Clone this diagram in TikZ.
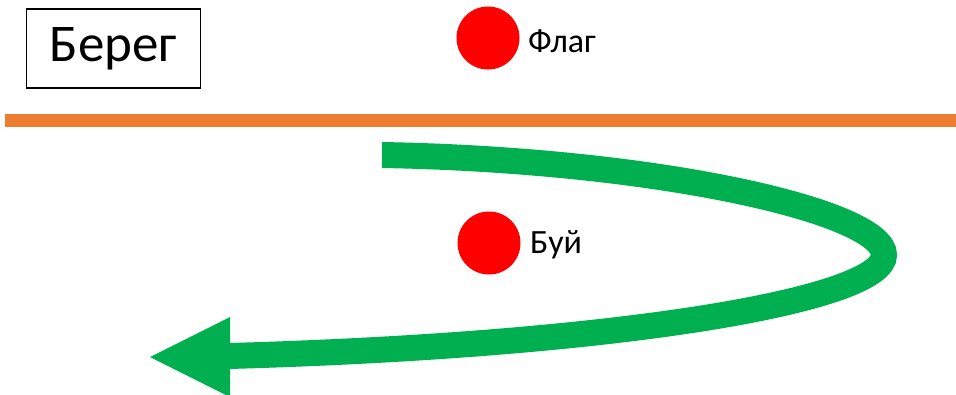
\documentclass[tikz,border=0pt]{standalone}
\usepackage{fontspec}
\setmainfont{Carlito}
\definecolor{shore}{HTML}{ED7D31}
\definecolor{route}{HTML}{00B050}
\definecolor{marker}{HTML}{FF0000}
\begin{document}
\begin{tikzpicture}[x=1pt,y=-1pt,
  mark dot/.style={circle,fill=marker,minimum size=63pt,inner sep=0pt},
  label text/.style={font=\fontsize{34}{40}\selectfont,anchor=west,inner sep=0pt}]
\useasboundingbox (0,0) rectangle (956,394);
% shore box and shore line
\node[draw,line width=1.3pt,minimum width=174pt,minimum height=79pt,inner sep=0pt,
  font=\fontsize{53}{60}\selectfont] (shore) at (113.5,48.5) {Берег};
\fill[shore] (5,114) rectangle (956,127);
% flag and buoy
\node[mark dot] (flag) at (488,38) {};
\node[label text] (flagtext) at (528,41) {Флаг};
\node[mark dot] (buoy) at (489,243) {};
\node[label text] (buoytext) at (530,245) {Буй};
% route around the buoy
\coordinate (start) at (382,155);
\coordinate (turn) at (884,255);
\coordinate (base) at (229,356);
\coordinate (tip) at (150,357);
\draw[route,line width=26pt,line cap=butt]
  (start) .. controls (660,160) and (884,212) .. (turn)
          .. controls (884,300) and (620,345) .. (base);
\fill[route] (tip) -- (230,317) -- (230,397) -- cycle;
\end{tikzpicture}
\end{document}
